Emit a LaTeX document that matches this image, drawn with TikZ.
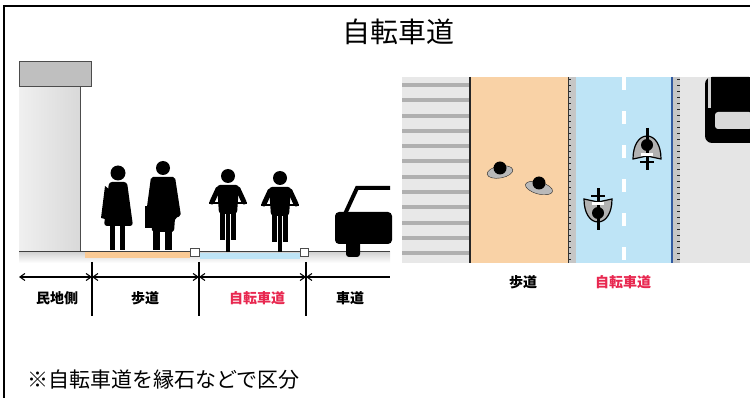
\documentclass[tikz,border=0pt]{standalone}
\usepackage{fontspec}
\setmainfont{Noto Sans CJK JP}
\usetikzlibrary{arrows.meta}

\definecolor{walkfill}{RGB}{249,210,166}
\definecolor{bikefill}{RGB}{190,228,246}
\definecolor{bikered}{RGB}{232,40,80}
\definecolor{laneedge}{RGB}{50,90,160}

\begin{document}
\begin{tikzpicture}[x=1pt, y=-1pt, >={Straight Barb[length=5pt,width=7pt]},
  lbl/.style={font=\fontsize{14}{16}\selectfont\bfseries, inner sep=0pt},
  redlbl/.style={lbl, text=bikered},
  dim/.style={line width=1.1pt},
  tick/.style={line width=1.1pt},
  silh/.style={fill=black},
  curbbox/.style={draw=gray!60!black, fill=white, line width=0.8pt},
  stripcurb/.style={fill=gray!45},
]
\useasboundingbox (0,0) rectangle (750,398);

% frame
\draw[line width=2pt] (4,398) -- (4,6) -- (750,6);

\node[font=\fontsize{28}{30}\selectfont] (title) at (398,32) {自転車道};

% cross section
\shade[left color=gray!12, right color=gray!30] (19,86) rectangle (80,252);
\draw[gray!60!black, line width=0.8pt] (80,86) -- (80,252);
\draw[fill=gray!50, draw=gray!60!black, line width=0.8pt] (19,61) rectangle (91,86);

\shade[top color=gray!35, bottom color=white] (19,252) rectangle (390,263);
\fill[walkfill!90!orange] (85,252) rectangle (190,258);
\fill[bikefill] (200,253) rectangle (300,259);
\draw[gray!50!black, line width=1pt] (19,252) -- (390,252);
\draw[curbbox] (190,248) rectangle (199,256);
\draw[curbbox] (300,248) rectangle (308,256);

% pedestrians
\fill[silh] (118,173) circle (7.5);
\fill[silh, rounded corners=3pt] (109,182) -- (127,182) -- (133,226) -- (104,226) -- cycle;
\fill[silh] (105,186) -- (101,218) -- (105,219) -- (110,190) -- cycle;
\fill[silh] (110,224) rectangle (115,250);
\fill[silh] (120,224) rectangle (125,250);

\fill[silh] (163,168) circle (7);
\fill[silh, rounded corners=2pt] (151,177) -- (175,177) -- (181,216) -- (175,218) -- (174,232) -- (152,232) -- (151,216) -- (146,214) -- cycle;
\fill[silh] (145,206) rectangle (152,228);
\fill[silh] (153,230) rectangle (160,250);
\fill[silh] (165,230) rectangle (172,250);

% cyclists, front view
\foreach \cx/\hy in {228/176, 280/178} {
  \fill[silh] (\cx,\hy) circle (7);
  \fill[silh, rounded corners=3pt] (\cx-11,\hy+9) -- (\cx+11,\hy+9) -- (\cx+9,\hy+38) -- (\cx-9,\hy+38) -- cycle;
  \draw[line width=5pt, line cap=round] (\cx-10,\hy+13) -- (\cx-16,\hy+26);
  \draw[line width=5pt, line cap=round] (\cx+10,\hy+13) -- (\cx+16,\hy+26);
  \draw[line width=1.5pt] (\cx-19,\hy+27) -- (\cx+19,\hy+27);
  \fill[silh] (\cx-8,\hy+36) rectangle (\cx-3,\hy+64);
  \fill[silh] (\cx+3,\hy+36) rectangle (\cx+8,\hy+64);
  \fill[silh] (\cx-2,\hy+36) rectangle (\cx+2,252);
}

% car, rear view
\fill[silh, rounded corners=4pt] (335,212) rectangle (392,244);
\draw[line width=4pt] (345,214) -- (357,188) -- (390,188);
\fill[silh, rounded corners=3pt] (346,238) rectangle (360,257);

% dimension line
\coordinate (d0) at (19,277);
\coordinate (d1) at (92,277);
\coordinate (d2) at (199,277);
\coordinate (d3) at (306,277);
\coordinate (d4) at (390,277);
\foreach \n/\x in {1/92, 2/199, 3/306} {
  \coordinate (t\n a) at (\x,262);
  \coordinate (t\n b) at (\x,316);
  \draw[tick] (t\n a) -- (t\n b);
}
\draw[dim, <->] (d0) -- (d1);
\draw[dim, <->] (d1) -- (d2);
\draw[dim, <->] (d2) -- (d3);
\draw[dim, <-] (d3) -- (d4);

\node[lbl] (minchi) at (57,298) {民地側};
\node[lbl] (hodo) at (145,298) {歩道};
\node[redlbl] (jitensha) at (257,298) {自転車道};
\node[lbl] (shado) at (350,298) {車道};

% plan view
\fill[gray!18] (402,77) rectangle (469,263);
\foreach \y in {83,98.3,...,262} {
  \fill[gray!62] (402,\y) rectangle (469,\y+4);
}
\fill[walkfill] (469,77) rectangle (568,263);
\draw[gray!30!black, line width=1.5pt] (470,77) -- (470,263);
\fill[bikefill] (576,77) rectangle (672,263);
\fill[stripcurb] (568,77) rectangle (576,263);
\fill[stripcurb] (673,77) rectangle (680,263);
\foreach \y in {79,85,...,262} {
  \draw[gray!30!black, line width=0.6pt] (568,\y) -- (571,\y);
  \draw[gray!30!black, line width=0.6pt] (677,\y) -- (680,\y);
}
\draw[gray!40!black, line width=0.8pt] (568,77) -- (568,263);
\draw[laneedge, line width=1.5pt] (672,77) -- (672,263);
\fill[gray!20] (680,77) rectangle (750,263);
\foreach \y in {77,111,...,262} {
  \fill[white] (622,\y) rectangle (626,\y+13);
}

% car from above
\fill[silh, rounded corners=7pt] (705,77) rectangle (756,143);
\fill[gray!35] (708,77) rectangle (711,108);
\fill[gray!30, rounded corners=3pt] (715,112) rectangle (752,129);

% pedestrians from above
\fill[gray!55, draw=gray!30!black, rotate around={10:(500,172)}] (500,172) ellipse (13 and 6);
\fill[silh] (500,168) circle (6.5);
\fill[gray!55, draw=gray!30!black, rotate around={-15:(539,188)}] (539,188) ellipse (14 and 6);
\fill[silh] (539,183) circle (6.5);

% cyclists from above
\foreach \cx/\cy/\f in {647/149/1, 598/209/-1} {
  \begin{scope}[shift={(\cx,\cy)}, yscale=\f]
    \filldraw[fill=gray!60, draw=black, line width=1.2pt] (-14,10) .. controls (-14,-4) and (-8,-13) .. (0,-13) .. controls (8,-13) and (14,-4) .. (14,10) -- (0,7) -- cycle;
    \draw[line width=3pt] (0,-21) -- (0,21);
    \fill[white] (-6,4) rectangle (6,7);
    \fill[silh] (0,-4) circle (6);
    \draw[line width=1.4pt] (-7,13) -- (7,13);
  \end{scope}
}

\node[lbl] (hodo2) at (523,282) {歩道};
\node[redlbl] (jitensha2) at (623,282) {自転車道};

\node[anchor=west, font=\fontsize{21}{24}\selectfont, inner sep=0pt] (note) at (27,380) {※自転車道を縁石などで区分};
\end{tikzpicture}
\end{document}
